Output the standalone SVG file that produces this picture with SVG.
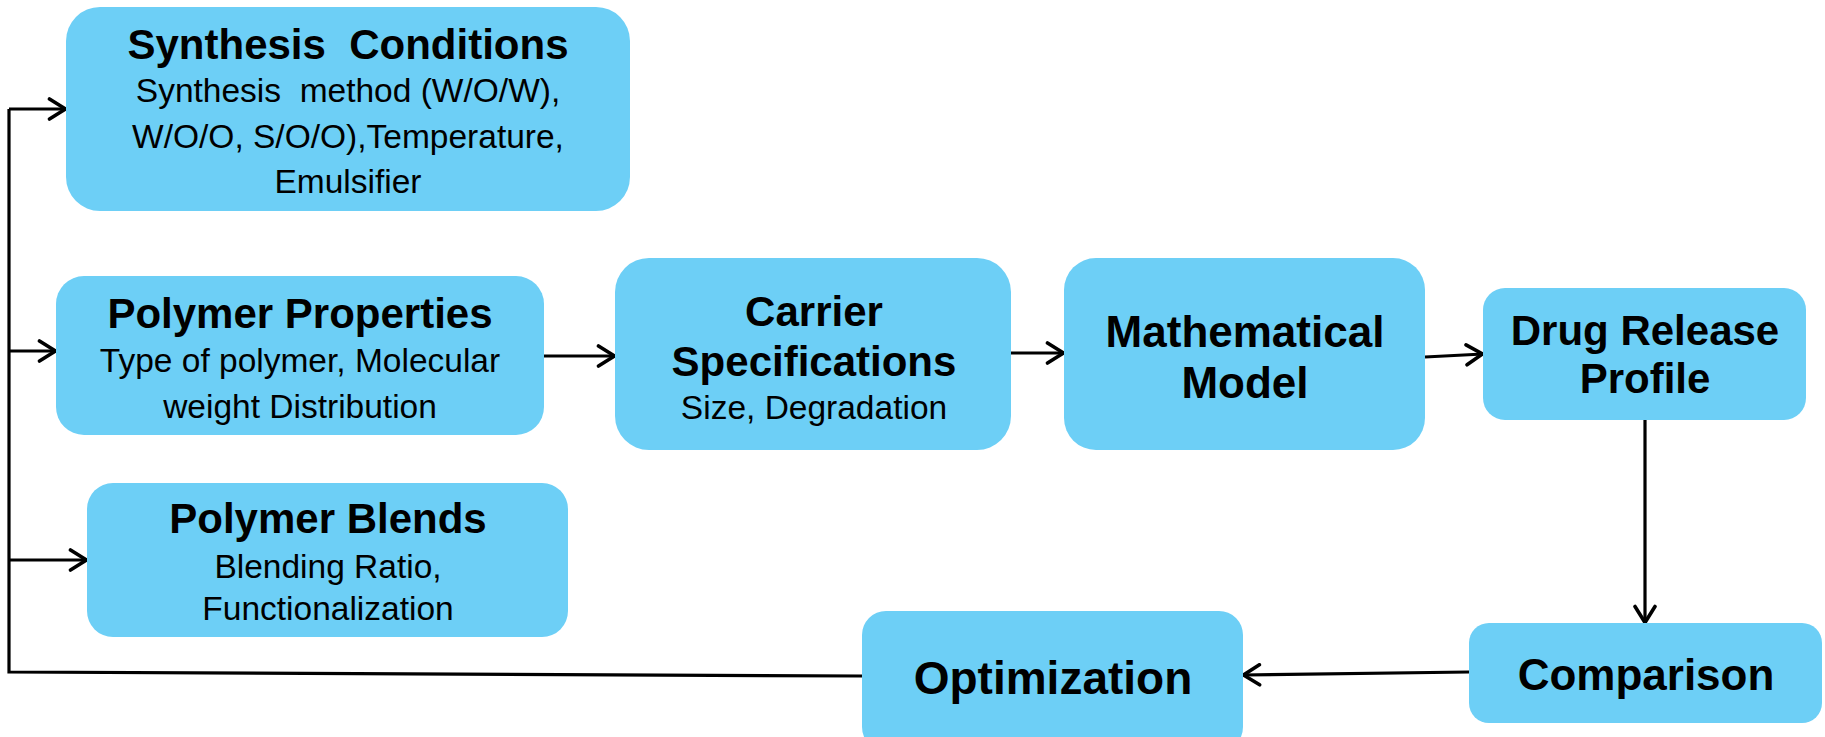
<svg xmlns="http://www.w3.org/2000/svg" width="1825" height="737" viewBox="0 0 1825 737">
  <defs>
    <marker id="arrow" viewBox="0 0 22 24" refX="19.5" refY="12" markerWidth="22" markerHeight="24" markerUnits="userSpaceOnUse" orient="auto">
      <path d="M3,2 L19,12 L3,22" fill="none" stroke="#000" stroke-width="3.6" stroke-linecap="round" stroke-linejoin="miter"/>
    </marker>
  </defs>
  <style>
    .box { fill: #6dcff6; }
    .title { font-family: "Liberation Sans", Arial, sans-serif; font-weight: bold; fill: #000; text-anchor: middle; }
    .sub { font-family: "Liberation Sans", Arial, sans-serif; font-size: 33.5px; fill: #000; text-anchor: middle; }
    .link { fill: none; stroke: #000; stroke-width: 3.2; }
  </style>
  <rect width="1825" height="737" fill="#fff"/>

  <g id="connectors">
    <!-- feedback bus on the left -->
    <path class="link" d="M862,676 L9,672 L9,109"/>
    <path class="link" d="M9,109 L66,109" marker-end="url(#arrow)"/>
    <path class="link" d="M9,351 L56,351" marker-end="url(#arrow)"/>
    <path class="link" d="M9,560 L87,560" marker-end="url(#arrow)"/>
    <!-- main chain -->
    <path class="link" d="M544,356 L615,356" marker-end="url(#arrow)"/>
    <path class="link" d="M1011,353 L1064,353" marker-end="url(#arrow)"/>
    <path class="link" d="M1425,357 L1483,354" marker-end="url(#arrow)"/>
    <path class="link" d="M1645,419 L1645,623" marker-end="url(#arrow)"/>
    <path class="link" d="M1469,672 L1243,675" marker-end="url(#arrow)"/>
  </g>

  <g id="synthesis-conditions">
    <rect class="box" x="66" y="7" width="564" height="204" rx="34"/>
    <text class="title" x="348" y="59" font-size="42" xml:space="preserve">Synthesis  Conditions</text>
    <text class="sub" x="348" y="102" xml:space="preserve">Synthesis  method (W/O/W),</text>
    <text class="sub" x="348" y="148">W/O/O, S/O/O),Temperature,</text>
    <text class="sub" x="348" y="193">Emulsifier</text>
  </g>

  <g id="polymer-properties">
    <rect class="box" x="56" y="276" width="488" height="159" rx="28"/>
    <text class="title" x="300" y="328" font-size="42">Polymer Properties</text>
    <text class="sub" x="300" y="372">Type of polymer, Molecular</text>
    <text class="sub" x="300" y="418">weight Distribution</text>
  </g>

  <g id="polymer-blends">
    <rect class="box" x="87" y="483" width="481" height="154" rx="26"/>
    <text class="title" x="328" y="533" font-size="42">Polymer Blends</text>
    <text class="sub" x="328" y="578">Blending Ratio,</text>
    <text class="sub" x="328" y="620">Functionalization</text>
  </g>

  <g id="carrier-specifications">
    <rect class="box" x="615" y="258" width="396" height="192" rx="34"/>
    <text class="title" x="814" y="326" font-size="42">Carrier</text>
    <text class="title" x="814" y="376" font-size="42">Specifications</text>
    <text class="sub" x="814" y="419">Size, Degradation</text>
  </g>

  <g id="mathematical-model">
    <rect class="box" x="1064" y="258" width="361" height="192" rx="32"/>
    <text class="title" x="1245" y="347" font-size="44">Mathematical</text>
    <text class="title" x="1245" y="398" font-size="44">Model</text>
  </g>

  <g id="drug-release-profile">
    <rect class="box" x="1483" y="288" width="323" height="132" rx="22"/>
    <text class="title" x="1645" y="345" font-size="42">Drug Release</text>
    <text class="title" x="1645" y="393" font-size="42">Profile</text>
  </g>

  <g id="comparison">
    <rect class="box" x="1469" y="623" width="353" height="100" rx="20"/>
    <text class="title" x="1646" y="690" font-size="44">Comparison</text>
  </g>

  <g id="optimization">
    <rect class="box" x="862" y="611" width="381" height="140" rx="24"/>
    <text class="title" x="1053" y="694" font-size="46">Optimization</text>
  </g>
</svg>
